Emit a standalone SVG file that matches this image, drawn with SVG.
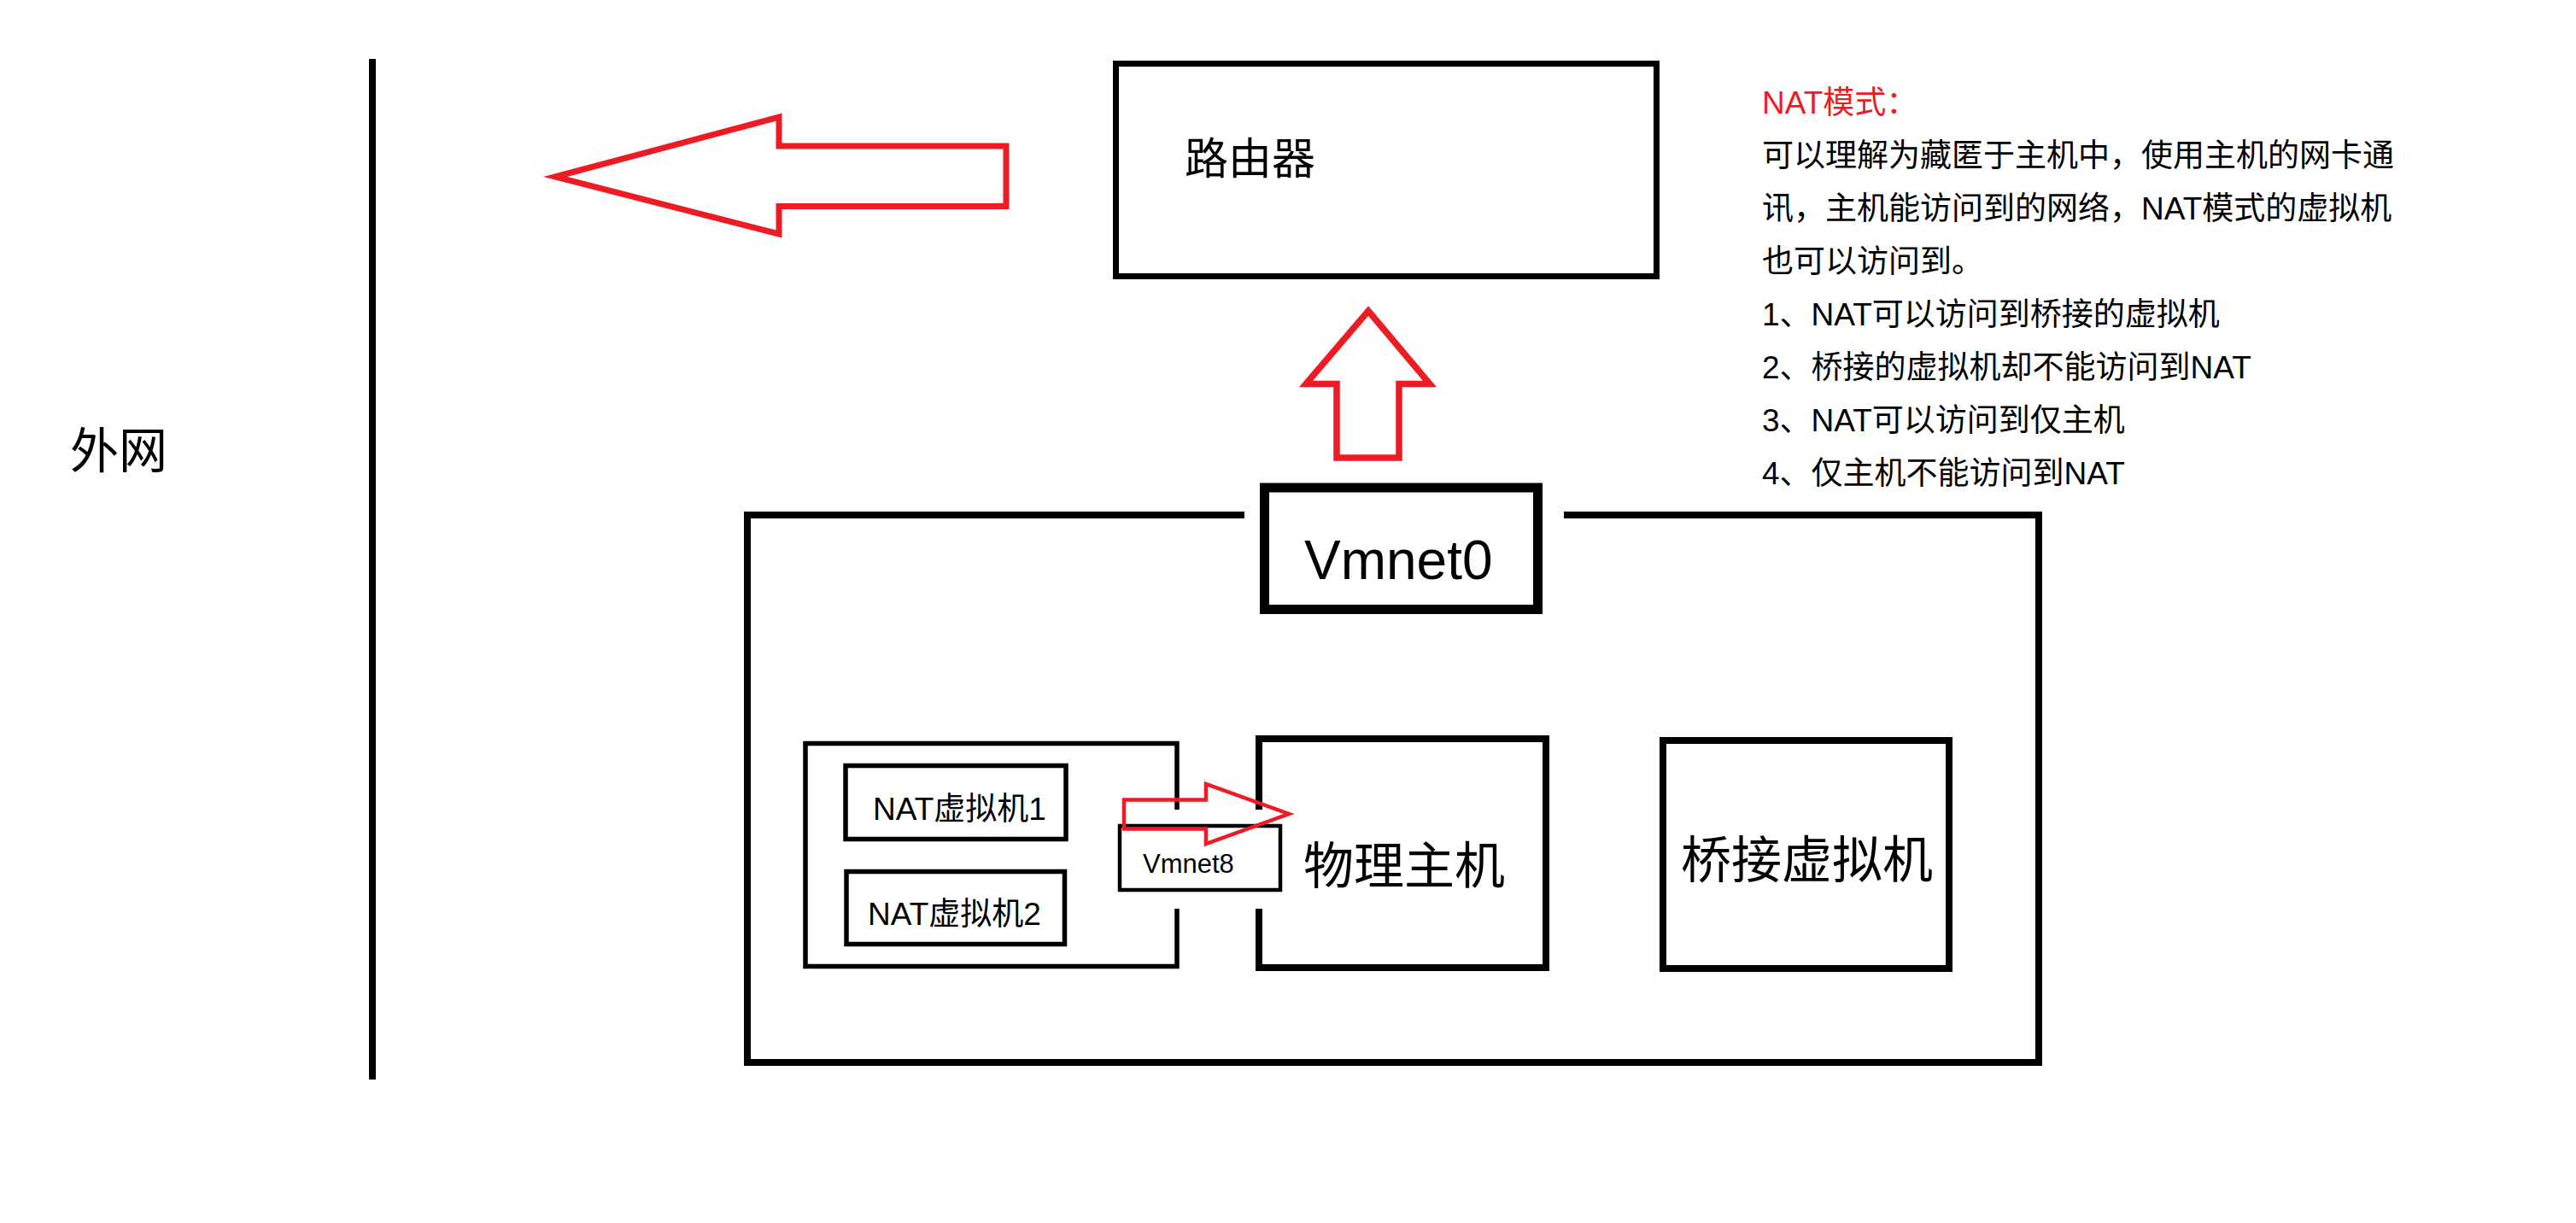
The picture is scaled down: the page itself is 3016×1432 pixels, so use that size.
<svg xmlns="http://www.w3.org/2000/svg" width="3016" height="1432" viewBox="0 0 3016 1432">
  <style>
    .box { fill: #ffffff; stroke: #000000; stroke-linejoin: miter; }
    .open { fill: none; stroke: #000000; stroke-linejoin: miter; stroke-linecap: butt; }
    .arrow { fill: none; stroke: #ED1C24; stroke-linejoin: miter; }
    .t { font-family: "Liberation Sans", "Noto Sans CJK SC", sans-serif; fill: #000000; }
    .note { font-family: "Liberation Sans", "Noto Sans CJK SC", sans-serif; font-size: 37px; fill: #000000; }
  </style>

  <rect x="0" y="0" width="3016" height="1432" fill="#ffffff"/>

  <!-- external network boundary -->
  <g id="wan">
    <line x1="436" y1="69" x2="436" y2="1264" stroke="#000000" stroke-width="8"/>
    <text class="t" x="82" y="548" font-size="57">外网</text>
  </g>

  <!-- router -->
  <g id="router">
    <rect class="box" x="1306.5" y="74.5" width="633" height="249" stroke-width="7"/>
    <text class="t" x="1387" y="204" font-size="51">路由器</text>
  </g>

  <!-- notes on NAT mode -->
  <g id="notes">
    <text class="note" x="2063" y="133" style="fill:#ED1C24">NAT模式：</text>
    <text class="note" x="2063" y="195">可以理解为藏匿于主机中，使用主机的网卡通</text>
    <text class="note" x="2063" y="257">讯，主机能访问到的网络，NAT模式的虚拟机</text>
    <text class="note" x="2063" y="319">也可以访问到。</text>
    <text class="note" x="2063" y="381">1、NAT可以访问到桥接的虚拟机</text>
    <text class="note" x="2063" y="443">2、桥接的虚拟机却不能访问到NAT</text>
    <text class="note" x="2063" y="505">3、NAT可以访问到仅主机</text>
    <text class="note" x="2063" y="567">4、仅主机不能访问到NAT</text>
  </g>

  <!-- Vmnet0 bridged segment -->
  <g id="vmnet0-frame">
    <path class="open" d="M1457,603 H875 V1244 H2387 V603 H1831" stroke-width="8"/>
  </g>
  <g id="vmnet0">
    <rect class="box" x="1480.5" y="571" width="320" height="142.5" stroke-width="11"/>
    <text class="t" x="1527" y="678" font-size="64">Vmnet0</text>
  </g>

  <!-- NAT group -->
  <g id="nat-group">
    <path class="open" d="M1378,948 V870.5 H943 V1131.5 H1378 V1064" stroke-width="5.5"/>
  </g>
  <g id="nat-vm1">
    <rect class="box" x="990" y="896.5" width="258" height="86" stroke-width="5.5"/>
    <text class="t" x="1022" y="960" font-size="37">NAT虚拟机1</text>
  </g>
  <g id="nat-vm2">
    <rect class="box" x="991" y="1020.5" width="255.5" height="85" stroke-width="5.5"/>
    <text class="t" x="1016" y="1083" font-size="37">NAT虚拟机2</text>
  </g>
  <g id="vmnet8">
    <rect class="box" x="1311" y="967" width="188" height="75" stroke-width="4.5"/>
    <text class="t" x="1338" y="1022" font-size="31">Vmnet8</text>
  </g>

  <!-- physical host -->
  <g id="host">
    <path class="open" d="M1474,948 V865 H1810 V1133 H1474 V1064" stroke-width="8"/>
    <text class="t" x="1526" y="1035" font-size="59">物理主机</text>
  </g>

  <!-- bridged VM -->
  <g id="bridged-vm">
    <rect class="box" x="1947" y="867" width="335" height="267" stroke-width="8"/>
    <text class="t" x="1968" y="1028" font-size="59">桥接虚拟机</text>
  </g>

  <!-- block arrows -->
  <g id="connectors">
    <polygon class="arrow" stroke-width="7" points="650,207 912,137 912,171 1178,171 1178,241.5 912,241.5 912,274"/>
    <polygon class="arrow" stroke-width="7.5" points="1602,364 1674,449.5 1638,449.5 1638,536 1565,536 1565,449.5 1529,449.5"/>
    <polygon class="arrow" stroke-width="4.5" points="1316,936.5 1412,936.5 1412,918 1509,953 1412,988 1412,970.5 1316,970.5"/>
  </g>
</svg>
